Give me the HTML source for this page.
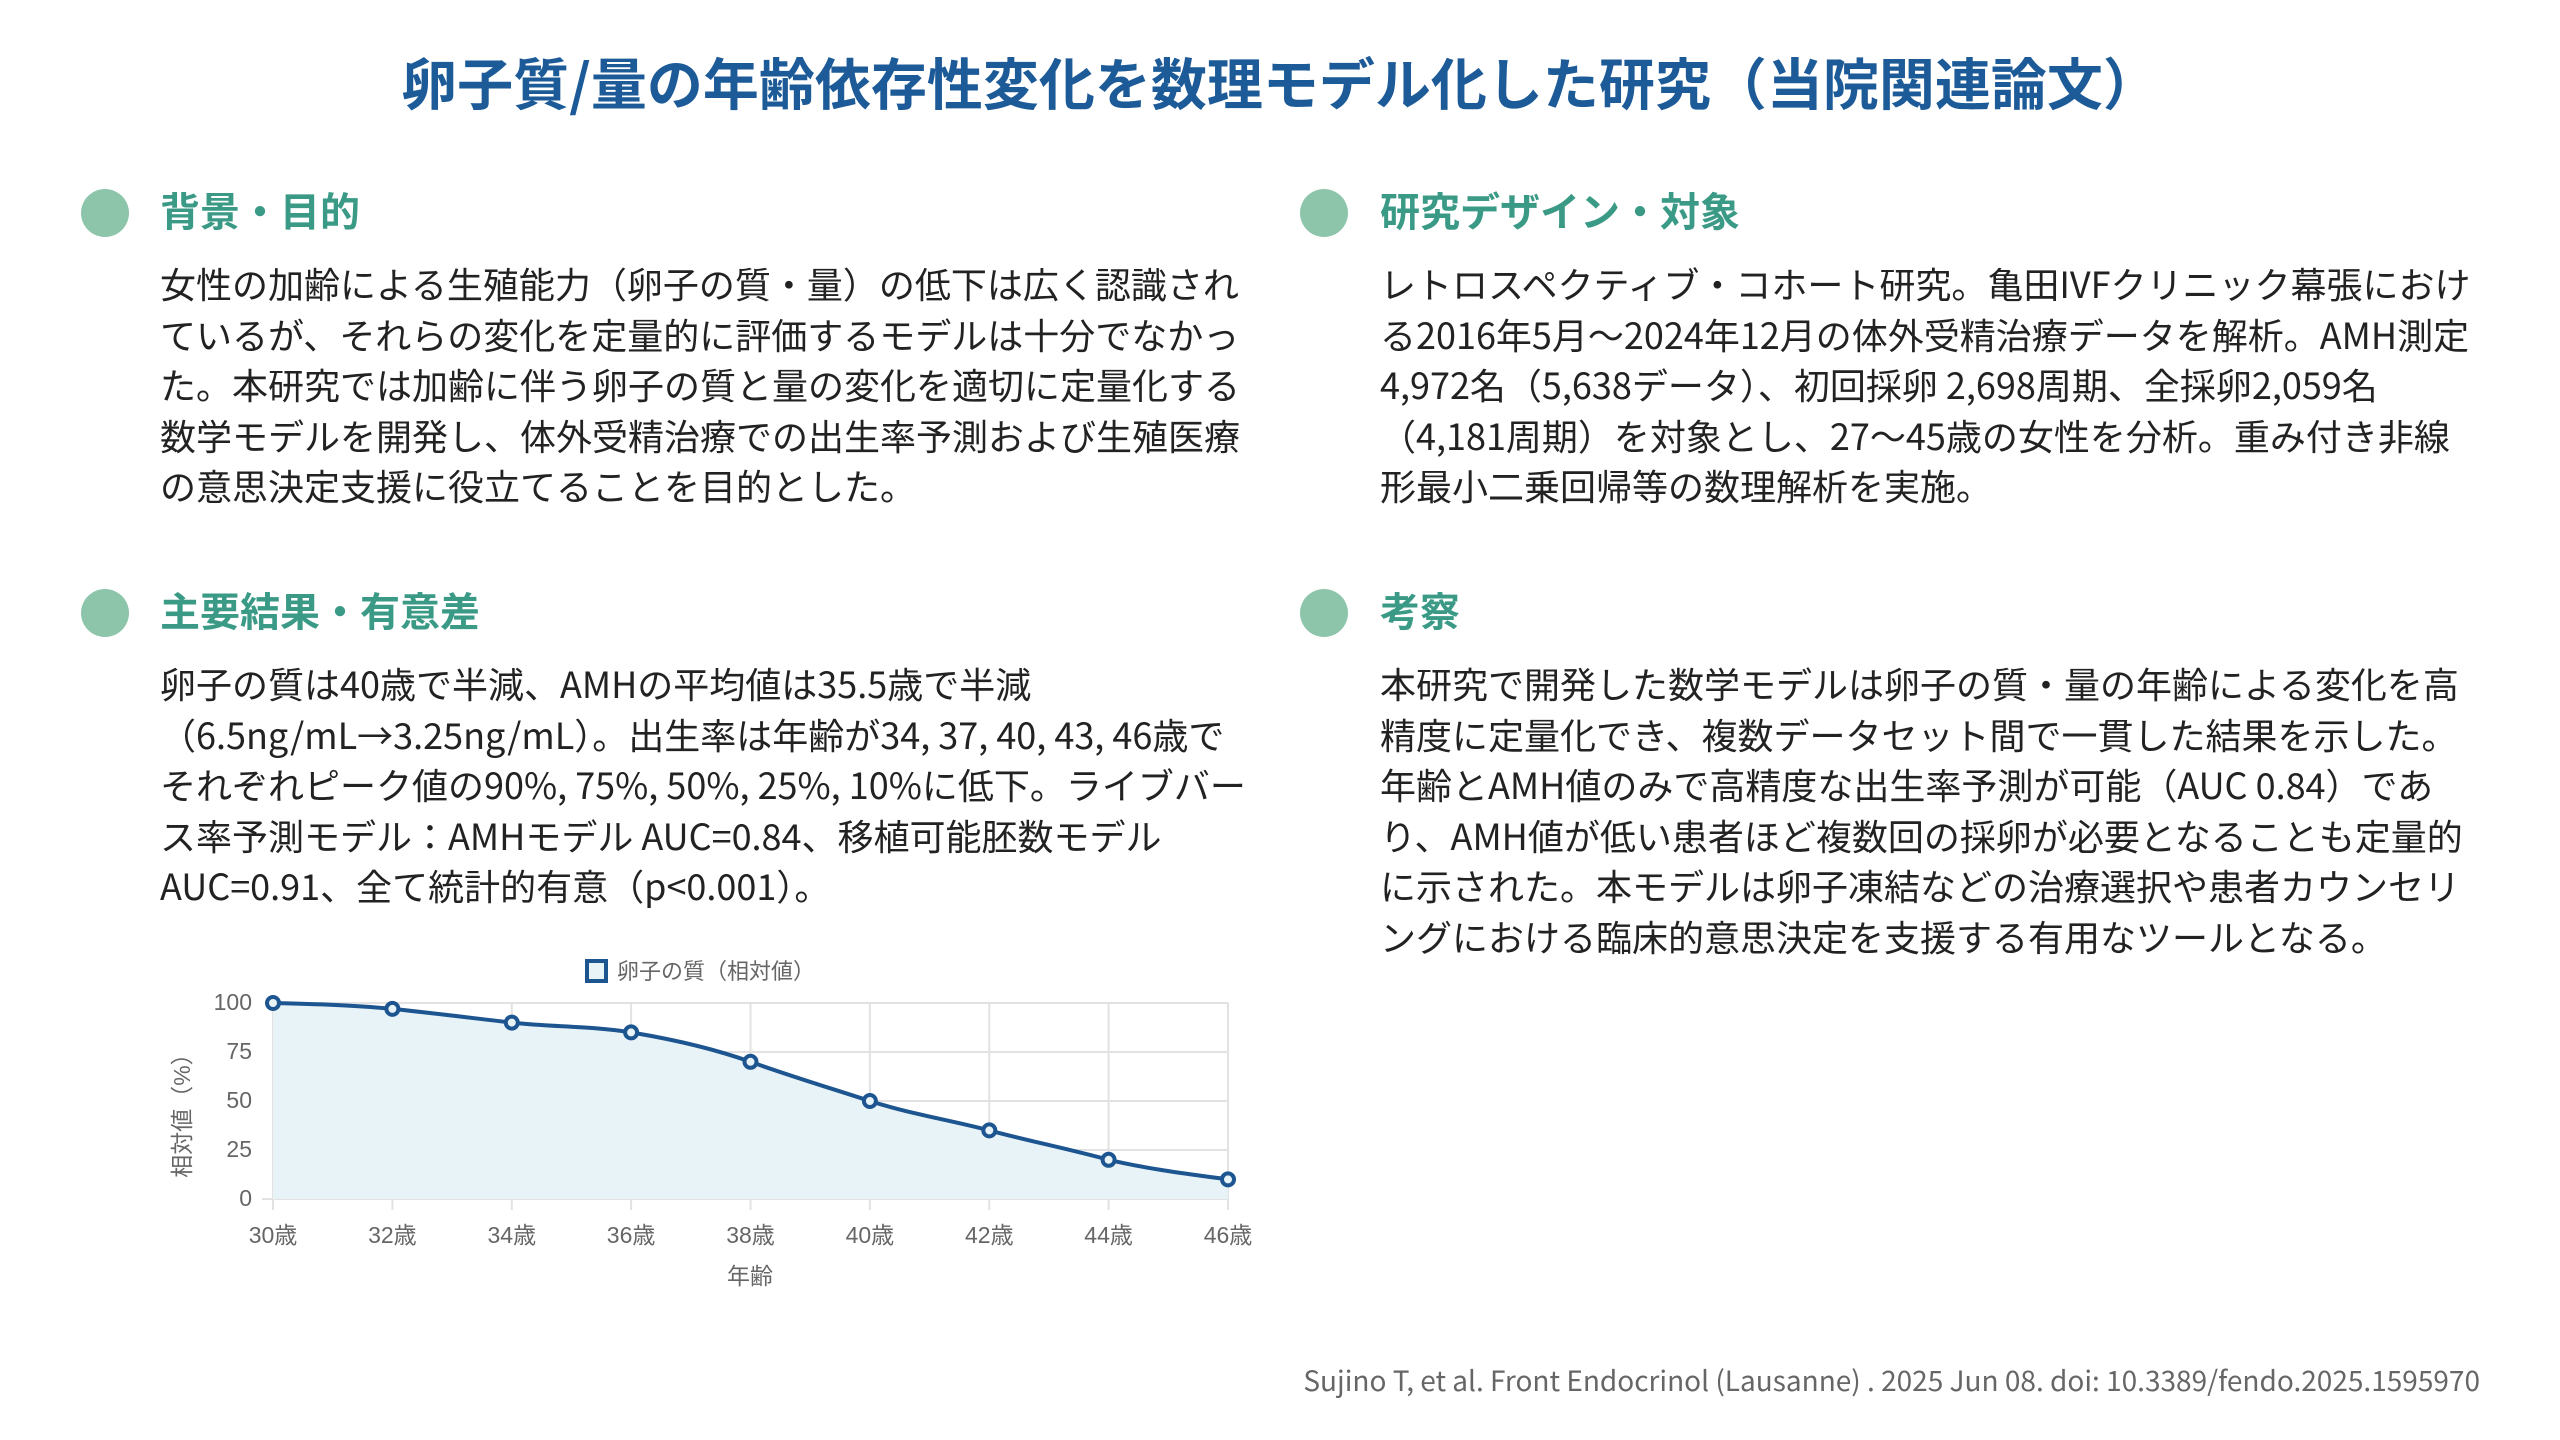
<!DOCTYPE html>
<html><head><meta charset="utf-8"><style>
html,body{margin:0;padding:0;background:#fff;}
body{width:2560px;height:1440px;position:relative;overflow:hidden;font-family:"Noto Sans CJK JP","Liberation Sans",sans-serif;}
.title{position:absolute;left:0;width:2560px;top:42px;text-align:center;font-size:56px;font-weight:bold;color:#1d5b98;line-height:80px;}
.dot{position:absolute;width:48px;height:48px;border-radius:50%;background:#8cc5a9;}
.h{position:absolute;font-size:40px;font-weight:bold;color:#3a9a86;line-height:50px;}
.p{position:absolute;font-size:36px;line-height:50.5px;color:#222;white-space:nowrap;}
.foot{position:absolute;right:80px;top:1360px;font-size:28px;color:#666;}
</style></head><body>
<div class="title">卵子質/量の年齢依存性変化を数理モデル化した研究（当院関連論文）</div>

<div class="dot" style="left:81px;top:189px"></div>
<div class="h" style="left:160px;top:184px">背景・目的</div>
<div class="p" style="left:160px;top:258px">女性の加齢による生殖能力（卵子の質・量）の低下は広く認識され<br>ているが、それらの変化を定量的に評価するモデルは十分でなかっ<br>た。本研究では加齢に伴う卵子の質と量の変化を適切に定量化する<br>数学モデルを開発し、体外受精治療での出生率予測および生殖医療<br>の意思決定支援に役立てることを目的とした。</div>

<div class="dot" style="left:1300px;top:189px"></div>
<div class="h" style="left:1380px;top:184px">研究デザイン・対象</div>
<div class="p" style="left:1380px;top:258px">レトロスペクティブ・コホート研究。亀田IVFクリニック幕張におけ<br>る2016年5月〜2024年12月の体外受精治療データを解析。AMH測定<br>4,972名（5,638データ）、初回採卵 2,698周期、全採卵2,059名<br>（4,181周期）を対象とし、27〜45歳の女性を分析。重み付き非線<br>形最小二乗回帰等の数理解析を実施。</div>

<div class="dot" style="left:81px;top:589px"></div>
<div class="h" style="left:160px;top:584px">主要結果・有意差</div>
<div class="p" style="left:160px;top:658px">卵子の質は40歳で半減、AMHの平均値は35.5歳で半減<br>（6.5ng/mL→3.25ng/mL）。出生率は年齢が34, 37, 40, 43, 46歳で<br>それぞれピーク値の90%, 75%, 50%, 25%, 10%に低下。ライブバー<br>ス率予測モデル：AMHモデル AUC=0.84、移植可能胚数モデル<br>AUC=0.91、全て統計的有意（p&lt;0.001）。</div>

<div class="dot" style="left:1300px;top:589px"></div>
<div class="h" style="left:1380px;top:584px">考察</div>
<div class="p" style="left:1380px;top:658px">本研究で開発した数学モデルは卵子の質・量の年齢による変化を高<br>精度に定量化でき、複数データセット間で一貫した結果を示した。<br>年齢とAMH値のみで高精度な出生率予測が可能（AUC 0.84）であ<br>り、AMH値が低い患者ほど複数回の採卵が必要となることも定量的<br>に示された。本モデルは卵子凍結などの治療選択や患者カウンセリ<br>ングにおける臨床的意思決定を支援する有用なツールとなる。</div>

<svg style="position:absolute;left:0;top:0" width="2560" height="1440" font-family="Liberation Sans, Noto Sans CJK JP, sans-serif">
<g stroke="#e2e2e2" stroke-width="2">
<line x1="273" y1="1003" x2="1228" y2="1003"/><line x1="273" y1="1052" x2="1228" y2="1052"/><line x1="273" y1="1101" x2="1228" y2="1101"/><line x1="273" y1="1150" x2="1228" y2="1150"/><line x1="262" y1="1199" x2="1228" y2="1199"/>
<line x1="273" y1="1003" x2="273" y2="1210"/><line x1="392.4" y1="1003" x2="392.4" y2="1210"/><line x1="511.8" y1="1003" x2="511.8" y2="1210"/><line x1="631.1" y1="1003" x2="631.1" y2="1210"/><line x1="750.5" y1="1003" x2="750.5" y2="1210"/><line x1="869.9" y1="1003" x2="869.9" y2="1210"/><line x1="989.3" y1="1003" x2="989.3" y2="1210"/><line x1="1108.6" y1="1003" x2="1108.6" y2="1210"/><line x1="1228" y1="1003" x2="1228" y2="1210"/>
</g>
<path d="M273,1003 C312,1004 352,1005 392.4,1008.9 C432,1013 472,1018 511.8,1022.6 C552,1027 592,1026 631.1,1032.4 C671,1039 712,1048 750.5,1061.8 C790,1076 830,1088 869.9,1101 C910,1114 950,1120 989.3,1130.4 C1029,1141 1069,1149 1108.6,1159.8 C1148,1169 1188,1174 1228,1179.4 L1228,1199 L273,1199 Z" fill="#e8f3f7"/>
<path d="M273,1003 C312,1004 352,1005 392.4,1008.9 C432,1013 472,1018 511.8,1022.6 C552,1027 592,1026 631.1,1032.4 C671,1039 712,1048 750.5,1061.8 C790,1076 830,1088 869.9,1101 C910,1114 950,1120 989.3,1130.4 C1029,1141 1069,1149 1108.6,1159.8 C1148,1169 1188,1174 1228,1179.4" fill="none" stroke="#1d5590" stroke-width="4"/>
<g fill="#e8f3f7" stroke="#1d5590" stroke-width="4">
<circle cx="273" cy="1003" r="6"/><circle cx="392.4" cy="1008.9" r="6"/><circle cx="511.8" cy="1022.6" r="6"/><circle cx="631.1" cy="1032.4" r="6"/><circle cx="750.5" cy="1061.8" r="6"/><circle cx="869.9" cy="1101" r="6"/><circle cx="989.3" cy="1130.4" r="6"/><circle cx="1108.6" cy="1159.8" r="6"/><circle cx="1228" cy="1179.4" r="6"/>
</g>
<g fill="#666" font-size="23" text-anchor="end">
<text x="252" y="1010">100</text><text x="252" y="1059">75</text><text x="252" y="1108">50</text><text x="252" y="1157">25</text><text x="252" y="1206">0</text>
</g>
<g fill="#666" font-size="23" text-anchor="middle">
<text x="273" y="1243">30歳</text><text x="392.4" y="1243">32歳</text><text x="511.8" y="1243">34歳</text><text x="631.1" y="1243">36歳</text><text x="750.5" y="1243">38歳</text><text x="869.9" y="1243">40歳</text><text x="989.3" y="1243">42歳</text><text x="1108.6" y="1243">44歳</text><text x="1228" y="1243">46歳</text>
<text x="750" y="1284">年齢</text>
<text transform="translate(190,1110) rotate(-90)">相対値（%）</text>
</g>
<rect x="587" y="961" width="19" height="20" fill="#e8f3f7" stroke="#1d5590" stroke-width="4"/>
<text x="617" y="979" fill="#666" font-size="22">卵子の質（相対値）</text>
</svg>

<div class="foot">Sujino T, et al. Front Endocrinol (Lausanne) . 2025 Jun 08. doi: 10.3389/fendo.2025.1595970</div>
</body></html>
